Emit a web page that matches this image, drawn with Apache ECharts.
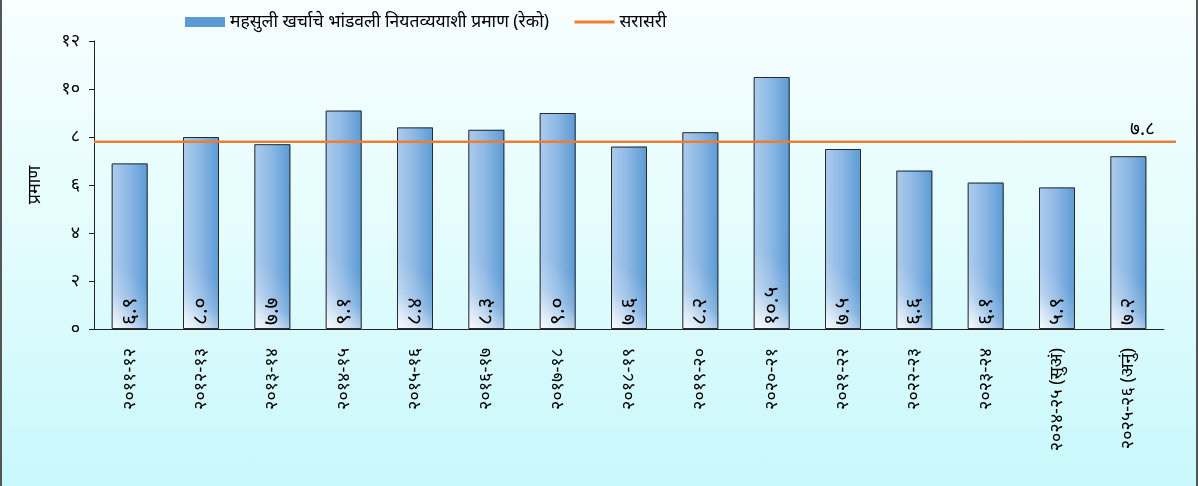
<!DOCTYPE html>
<html>
<head>
<meta charset="utf-8">
<title>chart</title>
<script src="https://cdn.jsdelivr.net/npm/echarts@6/dist/echarts.min.js"></script>
<style>
  *{margin:0;padding:0;}
  body{width:1198px;height:486px;overflow:hidden;}
  #main{
    width:1194px;height:486px;
    border-left:2px solid #555;border-right:2px solid #555;
    background:linear-gradient(to bottom,#f7fefe 0%,#e3fcfd 50%,#c8f8fb 100%);
  }
</style>
</head>
<body>
<div id="main"></div>
<script>
// data
var years = ['२०११-१२','२०१२-१३','२०१३-१४','२०१४-१५','२०१५-१६','२०१६-१७','२०१७-१८','२०१८-१९',
             '२०१९-२०','२०२०-२१','२०२१-२२','२०२२-२३','२०२३-२४','२०२४-२५ (सुअं)','२०२५-२६ (अनुं)'];
var ratio = [6.9, 8.0, 7.7, 9.1, 8.4, 8.3, 9.0, 7.6, 8.2, 10.5, 7.5, 6.6, 6.1, 5.9, 7.2];
var average = 7.8;
var barName = 'महसुली खर्चाचे भांडवली नियतव्ययाशी प्रमाण (रेको)';
var avgName = 'सरासरी';

var digits = ['०','१','२','३','४','५','६','७','८','९'];
function dev(n){
  return String(n).replace(/[0-9]/g, function(d){ return digits[+d]; });
}

var font = "'Noto Sans', sans-serif";
var myChart = echarts.init(document.getElementById('main'));

var option = {
  animation: false,
  textStyle: {fontFamily: font, color: '#000'},
  legend: {
    left: 178, top: 8,
    itemWidth: 40, itemHeight: 10, itemGap: 24,
    textStyle: {fontSize: 17.5, color: '#000'},
    data: [
      {name: barName, icon: 'rect', itemStyle: {color: '#5b9bd5', borderWidth: 0}},
      {name: avgName, itemStyle: {opacity: 0}, lineStyle: {color: '#ed7d31', width: 3}}
    ]
  },
  grid: [
    {left: 92, right: 32, top: 41, bottom: 157},
    {left: 92, right: 20, top: 41, bottom: 157}
  ],
  xAxis: [
    {
      type: 'category', gridIndex: 0, data: years,
      axisLine: {lineStyle: {color: '#222', width: 1}},
      axisTick: {alignWithLabel: true, length: 5, lineStyle: {color: '#222'}},
      axisLabel: {rotate: 90, fontSize: 18, color: '#000', margin: 19, interval: 0}
    },
    {type: 'value', gridIndex: 1, min: 0, max: 1, show: false}
  ],
  yAxis: [
    {
      type: 'value', gridIndex: 0, min: 0, max: 12, interval: 2,
      name: 'प्रमाण', nameLocation: 'middle', nameGap: 50, nameRotate: 90,
      nameTextStyle: {fontSize: 18, color: '#000'},
      axisLine: {show: true, lineStyle: {color: '#222'}},
      axisTick: {show: true, length: 5, lineStyle: {color: '#222'}},
      axisLabel: {fontSize: 18, color: '#000', margin: 14, formatter: function(v){ return dev(v); }},
      splitLine: {show: false}
    },
    {type: 'value', gridIndex: 1, min: 0, max: 12, show: false}
  ],
  series: [
    {
      name: barName, type: 'bar', xAxisIndex: 0, yAxisIndex: 0,
      data: ratio, barWidth: 36,
      itemStyle: {
        color: new echarts.graphic.LinearGradient(0, 0, 1, 0, [
          {offset: 0, color: '#acccec'},
          {offset: 0.45, color: '#8fb9e5'},
          {offset: 1, color: '#5b9bd5'}
        ])
      }
    },
    {
      // white sheen toward the lower left of each bar
      name: 'sheen', type: 'bar', xAxisIndex: 0, yAxisIndex: 0,
      data: ratio, barWidth: 36, barGap: '-100%', silent: true, z: 3,
      itemStyle: {
        color: new echarts.graphic.LinearGradient(0, 1, 1, 0.75, [
          {offset: 0, color: 'rgba(255,255,255,0.95)'},
          {offset: 0.55, color: 'rgba(255,255,255,0.2)'},
          {offset: 1, color: 'rgba(255,255,255,0)'}
        ]),
        borderColor: '#2a2a2a', borderWidth: 1
      },
      label: {
        show: true, position: 'insideBottom', rotate: 90,
        align: 'left', verticalAlign: 'middle', distance: 4,
        fontSize: 21, fontFamily: font, color: '#000',
        formatter: function(p){ return dev(p.value.toFixed(1)); }
      }
    },
    {
      name: avgName, type: 'line', xAxisIndex: 1, yAxisIndex: 1,
      symbol: 'none', z: 5,
      lineStyle: {color: '#ed7d31', width: 2.5},
      itemStyle: {color: '#ed7d31'},
      endLabel: {
        show: true, offset: [-54, -12], fontSize: 19, color: '#000',
        formatter: function(){ return dev(average.toFixed(1)); }
      },
      data: [[0, average], [1, average]]
    }
  ]
};
myChart.setOption(option);
</script>
</body>
</html>
